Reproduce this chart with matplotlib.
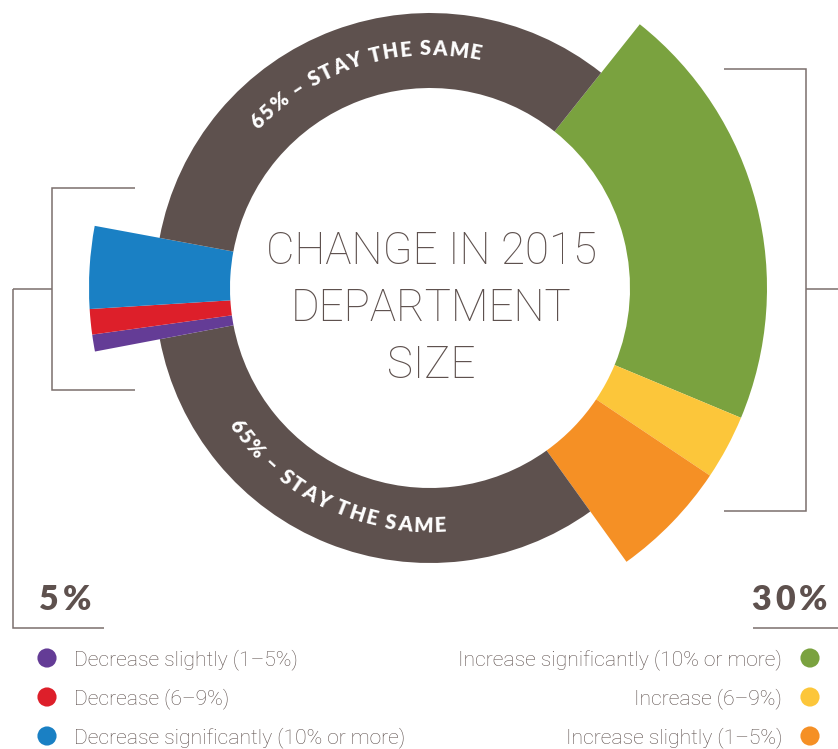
import numpy as np
import matplotlib
matplotlib.use('Agg')
import matplotlib.pyplot as plt
from matplotlib.patches import Wedge
from matplotlib.font_manager import FontProperties, findfont, get_font

# ---------------- data ----------------
decrease_labels = ['Decrease slightly (1–5%)', 'Decrease (6–9%)', 'Decrease significantly (10% or more)']
decrease_values = [0.8, 1.2, 3.9]
increase_labels = ['Increase significantly (10% or more)', 'Increase (6–9%)', 'Increase slightly (1–5%)']
increase_values = [20.6, 3.1, 5.7]
stay_value = 64.7
stay_label = '65% – STAY THE SAME'
decrease_total_label = '5%'
increase_total_label = '30%'
title_lines = ['CHANGE IN 2015', 'DEPARTMENT', 'SIZE']

# ---------------- style ----------------
decrease_colors = ['#643c96', '#dd1f2a', '#1a80c4']
increase_colors = ['#7aa23f', '#fcc63a', '#f59025']
brown = '#5e514e'
text_col = '#5e514e'
line_col = '#7b6f6c'

W, H = 838, 749
fig = plt.figure(figsize=(W / 100, H / 100), dpi=100)
ax = fig.add_axes([0, 0, 1, 1])
ax.set_xlim(0, W)
ax.set_ylim(0, H)
ax.axis('off')


def py(y):
    return H - y


CX, CY = 430, py(288)
R_IN = 200
R_RING = 275
R_INC = 337
R_DEC = 341
START = 51.5           # angle where the increase block starts (deg, ccw from +x)
BOTTOM_SHARE = 0.4934  # share of the 'stay' arc drawn below
DEG = 3.6

angle = START
for v, c in zip(increase_values, increase_colors):
    span = v * DEG
    ax.add_patch(Wedge((CX, CY), R_INC, angle - span, angle, width=R_INC - R_IN,
                       facecolor=c, edgecolor='none'))
    angle -= span
span = stay_value * DEG * BOTTOM_SHARE
ax.add_patch(Wedge((CX, CY), R_RING, angle - span, angle, width=R_RING - R_IN,
                   facecolor=brown, edgecolor='none'))
angle -= span
for v, c in zip(decrease_values, decrease_colors):
    span = v * DEG
    ax.add_patch(Wedge((CX, CY), R_DEC, angle - span, angle, width=R_DEC - R_IN,
                       facecolor=c, edgecolor='none'))
    angle -= span
span = stay_value * DEG * (1 - BOTTOM_SHARE)
ax.add_patch(Wedge((CX, CY), R_RING, angle - span, angle, width=R_RING - R_IN,
                   facecolor=brown, edgecolor='none'))


def advances(s, prop):
    f = get_font(findfont(prop))
    f.set_size(prop.get_size_in_points(), 100)
    return np.array([f.load_char(ord(ch)).linearHoriAdvance / 65536.0 for ch in s])


# ---------------- curved labels ----------------
arc_prop = FontProperties(family='Lato', weight='heavy', size=14.5)
adv = advances(stay_label, arc_prop)
cum = np.concatenate([[0], np.cumsum(adv)[:-1]]) + adv / 2.0
idx = np.arange(len(stay_label))


def curved(a0, a1, R, direction):
    # tracking chosen so centres of first/last chars land at a0/a1
    L = abs(a1 - a0) * np.pi / 180 * R
    t = (L - (cum[-1] - cum[0])) / (len(stay_label) - 1)
    s = cum - cum[0] + t * idx
    for ch, si in zip(stay_label, s):
        a = a0 + direction * si / R * 180 / np.pi
        rot = a - 90 if direction < 0 else a + 90
        x = CX + R * np.cos(np.radians(a))
        y = CY + R * np.sin(np.radians(a))
        ax.text(x, y, ch, fontproperties=arc_prop, color='white', rotation=rot,
                rotation_mode='anchor', ha='center', va='baseline')


curved(136.0, 79.0, 233.0, -1)
curved(215.5, 272.4, 244.0, +1)

# ---------------- centre title ----------------
renderer = fig.canvas.get_renderer()


def fit_size(s, target, **kw):
    t = ax.text(0, 0, s, fontsize=20, **kw)
    w = t.get_window_extent(renderer).width
    t.remove()
    return 20 * target / w


title_kw = dict(family='Roboto', weight='light')
tfs = fit_size(title_lines[0], 332, **title_kw)
for line, yb in zip(title_lines, [264, 321, 378]):
    ax.text(431, py(yb), line, fontsize=tfs, color=text_col, ha='center',
            va='baseline', **title_kw)

# ---------------- brackets ----------------
lkw = dict(color=line_col, lw=1.1, solid_capstyle='butt', solid_joinstyle='miter')
ax.plot([135, 52, 52, 135], [py(188), py(188), py(390), py(390)], **lkw)
ax.plot([13, 52], [py(289), py(289)], **lkw)
ax.plot([13, 13, 104], [py(289), py(628), py(628)], **lkw)
ax.plot([724, 806, 806, 724], [py(69), py(69), py(511), py(511)], **lkw)
ax.plot([806, 838], [py(289), py(289)], **lkw)
ax.plot([753, 838], [py(628), py(628)], **lkw)

# ---------------- group totals (letter-spaced) ----------------
tot_prop = FontProperties(family='Lato', weight='heavy', size=24.5)


def spaced(s, xc, yb, track):
    a = advances(s, tot_prop)
    total = a.sum() + track * (len(s) - 1)
    x = xc - total / 2
    for ch, w in zip(s, a):
        ax.text(x, py(yb), ch, fontproperties=tot_prop, color=text_col,
                ha='left', va='baseline')
        x += w + track


spaced(decrease_total_label, 65, 610, 4)
spaced(increase_total_label, 789.5, 610, 4)

# ---------------- legend ----------------
leg_kw = dict(family='Roboto', weight='light')
lfs = fit_size(decrease_labels[2], 333, **leg_kw)
cap = 0.71 * lfs * 100 / 72
rows = [658, 697, 736]
for lab, c, yr in zip(decrease_labels, decrease_colors, rows):
    ax.scatter([47], [py(yr)], s=190, color=c, edgecolors='none')
    ax.text(74, py(yr + cap / 2), lab, fontsize=lfs, color=text_col, ha='left',
            va='baseline', **leg_kw)
for lab, c, yr in zip(increase_labels, increase_colors, rows):
    ax.scatter([810], [py(yr)], s=190, color=c, edgecolors='none')
    ax.text(782, py(yr + cap / 2), lab, fontsize=lfs, color=text_col, ha='right',
            va='baseline', **leg_kw)

fig.savefig('out.png', dpi=100, facecolor='white')
